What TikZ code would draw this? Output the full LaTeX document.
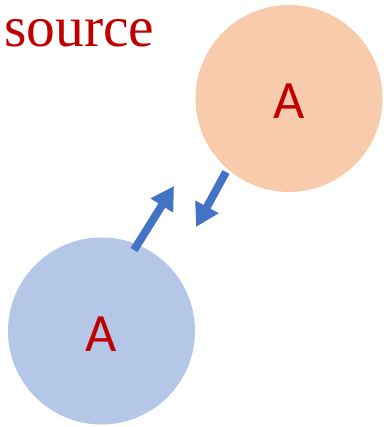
\documentclass[tikz,border=0pt]{standalone}
\usepackage{fontspec}
\setmainfont{Liberation Serif}
\newfontfamily\calib{Carlito}
\usetikzlibrary{arrows.meta}
\definecolor{dred}{HTML}{C00000}
\definecolor{orfill}{HTML}{F8CBAD}
\definecolor{blfill}{HTML}{B4C7E7}
\definecolor{arr}{HTML}{4472C4}
\tikzset{
  ball/.style={circle, draw=none, minimum size=187pt, inner sep=0pt},
  letter/.style={font=\calib\fontsize{54}{54}\selectfont, text=dred, inner sep=0pt},
  bigarrow/.style={draw=arr, line width=8pt, -{Triangle[length=23pt,width=25pt]}}
}
\begin{document}
\begin{tikzpicture}[x=1pt,y=-1pt]
\useasboundingbox (0,0) rectangle (383,427);
\node[anchor=base west, inner sep=0pt, text=dred, font=\fontsize{57.5}{57.5}\selectfont] (src) at (4,47) {source};
\node[ball, fill=orfill] (top) at (289,98.5) {};
\node[ball, fill=blfill] (bot) at (101.5,331) {};
\node[letter] (ta) at (289,101) {A};
\node[letter] (ba) at (101.5,334) {A};
\coordinate (a1s) at (134,250);
\coordinate (a1e) at (174,186);
\coordinate (a2s) at (226,172);
\coordinate (a2e) at (196,227);
\draw[bigarrow] (a1s) -- (a1e);
\draw[bigarrow] (a2s) -- (a2e);
\end{tikzpicture}
\end{document}
